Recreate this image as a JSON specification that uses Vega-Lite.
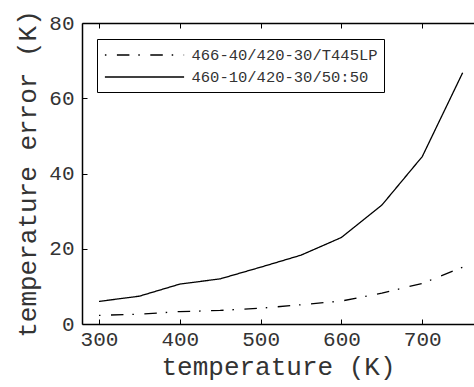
{
  "$schema": "https://vega.github.io/schema/vega-lite/v6.json",
  "width": 392,
  "height": 301,
  "autosize": {"type": "none"},
  "padding": {"top": 23, "left": 82, "right": 0, "bottom": 63},
  "background": "white",
  "config": {
    "view": {"stroke": null},
    "font": "Liberation Mono",
    "axis": {
      "domainColor": "black",
      "domainWidth": 1.5,
      "tickColor": "black",
      "tickSize": -5,
      "grid": false,
      "labelFont": "Liberation Mono",
      "labelFontSize": 21,
      "labelColor": "#333",
      "titleFont": "Liberation Mono",
      "titleFontSize": 26,
      "titleFontWeight": "normal",
      "titleColor": "#333"
    },
    "legend": {"labelFont": "Liberation Mono"}
  },
  "data": {
    "values": [
      {"t": 300, "err": 2.3, "series": "466-40/420-30/T445LP"},
      {"t": 350, "err": 2.6, "series": "466-40/420-30/T445LP"},
      {"t": 400, "err": 3.3, "series": "466-40/420-30/T445LP"},
      {"t": 450, "err": 3.6, "series": "466-40/420-30/T445LP"},
      {"t": 500, "err": 4.2, "series": "466-40/420-30/T445LP"},
      {"t": 550, "err": 5.1, "series": "466-40/420-30/T445LP"},
      {"t": 600, "err": 6.1, "series": "466-40/420-30/T445LP"},
      {"t": 650, "err": 8.2, "series": "466-40/420-30/T445LP"},
      {"t": 700, "err": 10.8, "series": "466-40/420-30/T445LP"},
      {"t": 750, "err": 15.1, "series": "466-40/420-30/T445LP"},
      {"t": 300, "err": 6.0, "series": "460-10/420-30/50:50"},
      {"t": 350, "err": 7.4, "series": "460-10/420-30/50:50"},
      {"t": 400, "err": 10.6, "series": "460-10/420-30/50:50"},
      {"t": 450, "err": 12.0, "series": "460-10/420-30/50:50"},
      {"t": 500, "err": 15.1, "series": "460-10/420-30/50:50"},
      {"t": 550, "err": 18.3, "series": "460-10/420-30/50:50"},
      {"t": 600, "err": 23.0, "series": "460-10/420-30/50:50"},
      {"t": 650, "err": 31.6, "series": "460-10/420-30/50:50"},
      {"t": 700, "err": 44.5, "series": "460-10/420-30/50:50"},
      {"t": 750, "err": 66.8, "series": "460-10/420-30/50:50"}
    ]
  },
  "layer": [
    {
      "mark": {"type": "line", "color": "black", "strokeWidth": 1.3},
      "encoding": {
        "x": {
          "field": "t", "type": "quantitative",
          "scale": {"domain": [279, 764], "nice": false, "zero": false},
          "axis": {"values": [300, 400, 500, 600, 700], "title": "temperature (K)", "labelPadding": 9, "titlePadding": 4}
        },
        "y": {
          "field": "err", "type": "quantitative",
          "scale": {"domain": [0, 80], "nice": false},
          "axis": {"values": [0, 20, 40, 60, 80], "title": "temperature error (K)", "labelPadding": 13, "titlePadding": 8}
        },
        "strokeDash": {
          "field": "series", "type": "nominal",
          "scale": {"domain": ["466-40/420-30/T445LP", "460-10/420-30/50:50"], "range": [[1.5, 10.5, 12.5, 8.9], [1, 0]]},
          "legend": {
            "title": null,
            "orient": "none",
            "legendX": 15,
            "legendY": 16,
            "strokeColor": "black",
            "fillColor": "white",
            "padding": 6,
            "symbolType": "M-4.4,0H4.4",
            "symbolSize": 324,
            "symbolOffset": 31.5,
            "symbolStrokeWidth": 1.3,
            "symbolStrokeColor": "black",
            "labelFont": "Liberation Mono",
            "labelFontSize": 15.5,
            "labelColor": "#333",
            "labelOffset": 37,
            "labelLimit": 400,
            "rowPadding": 3
          }
        },
        "detail": {"field": "series"}
      }
    },
    {
      "mark": {"type": "line", "opacity": 0},
      "encoding": {
        "x": {
          "field": "t", "type": "quantitative",
          "axis": {"orient": "top", "values": [300, 400, 500, 600, 700], "labels": false, "title": null}
        },
        "y": {"field": "err", "type": "quantitative"},
        "detail": {"field": "series"}
      }
    }
  ],
  "resolve": {"axis": {"x": "independent"}}
}
